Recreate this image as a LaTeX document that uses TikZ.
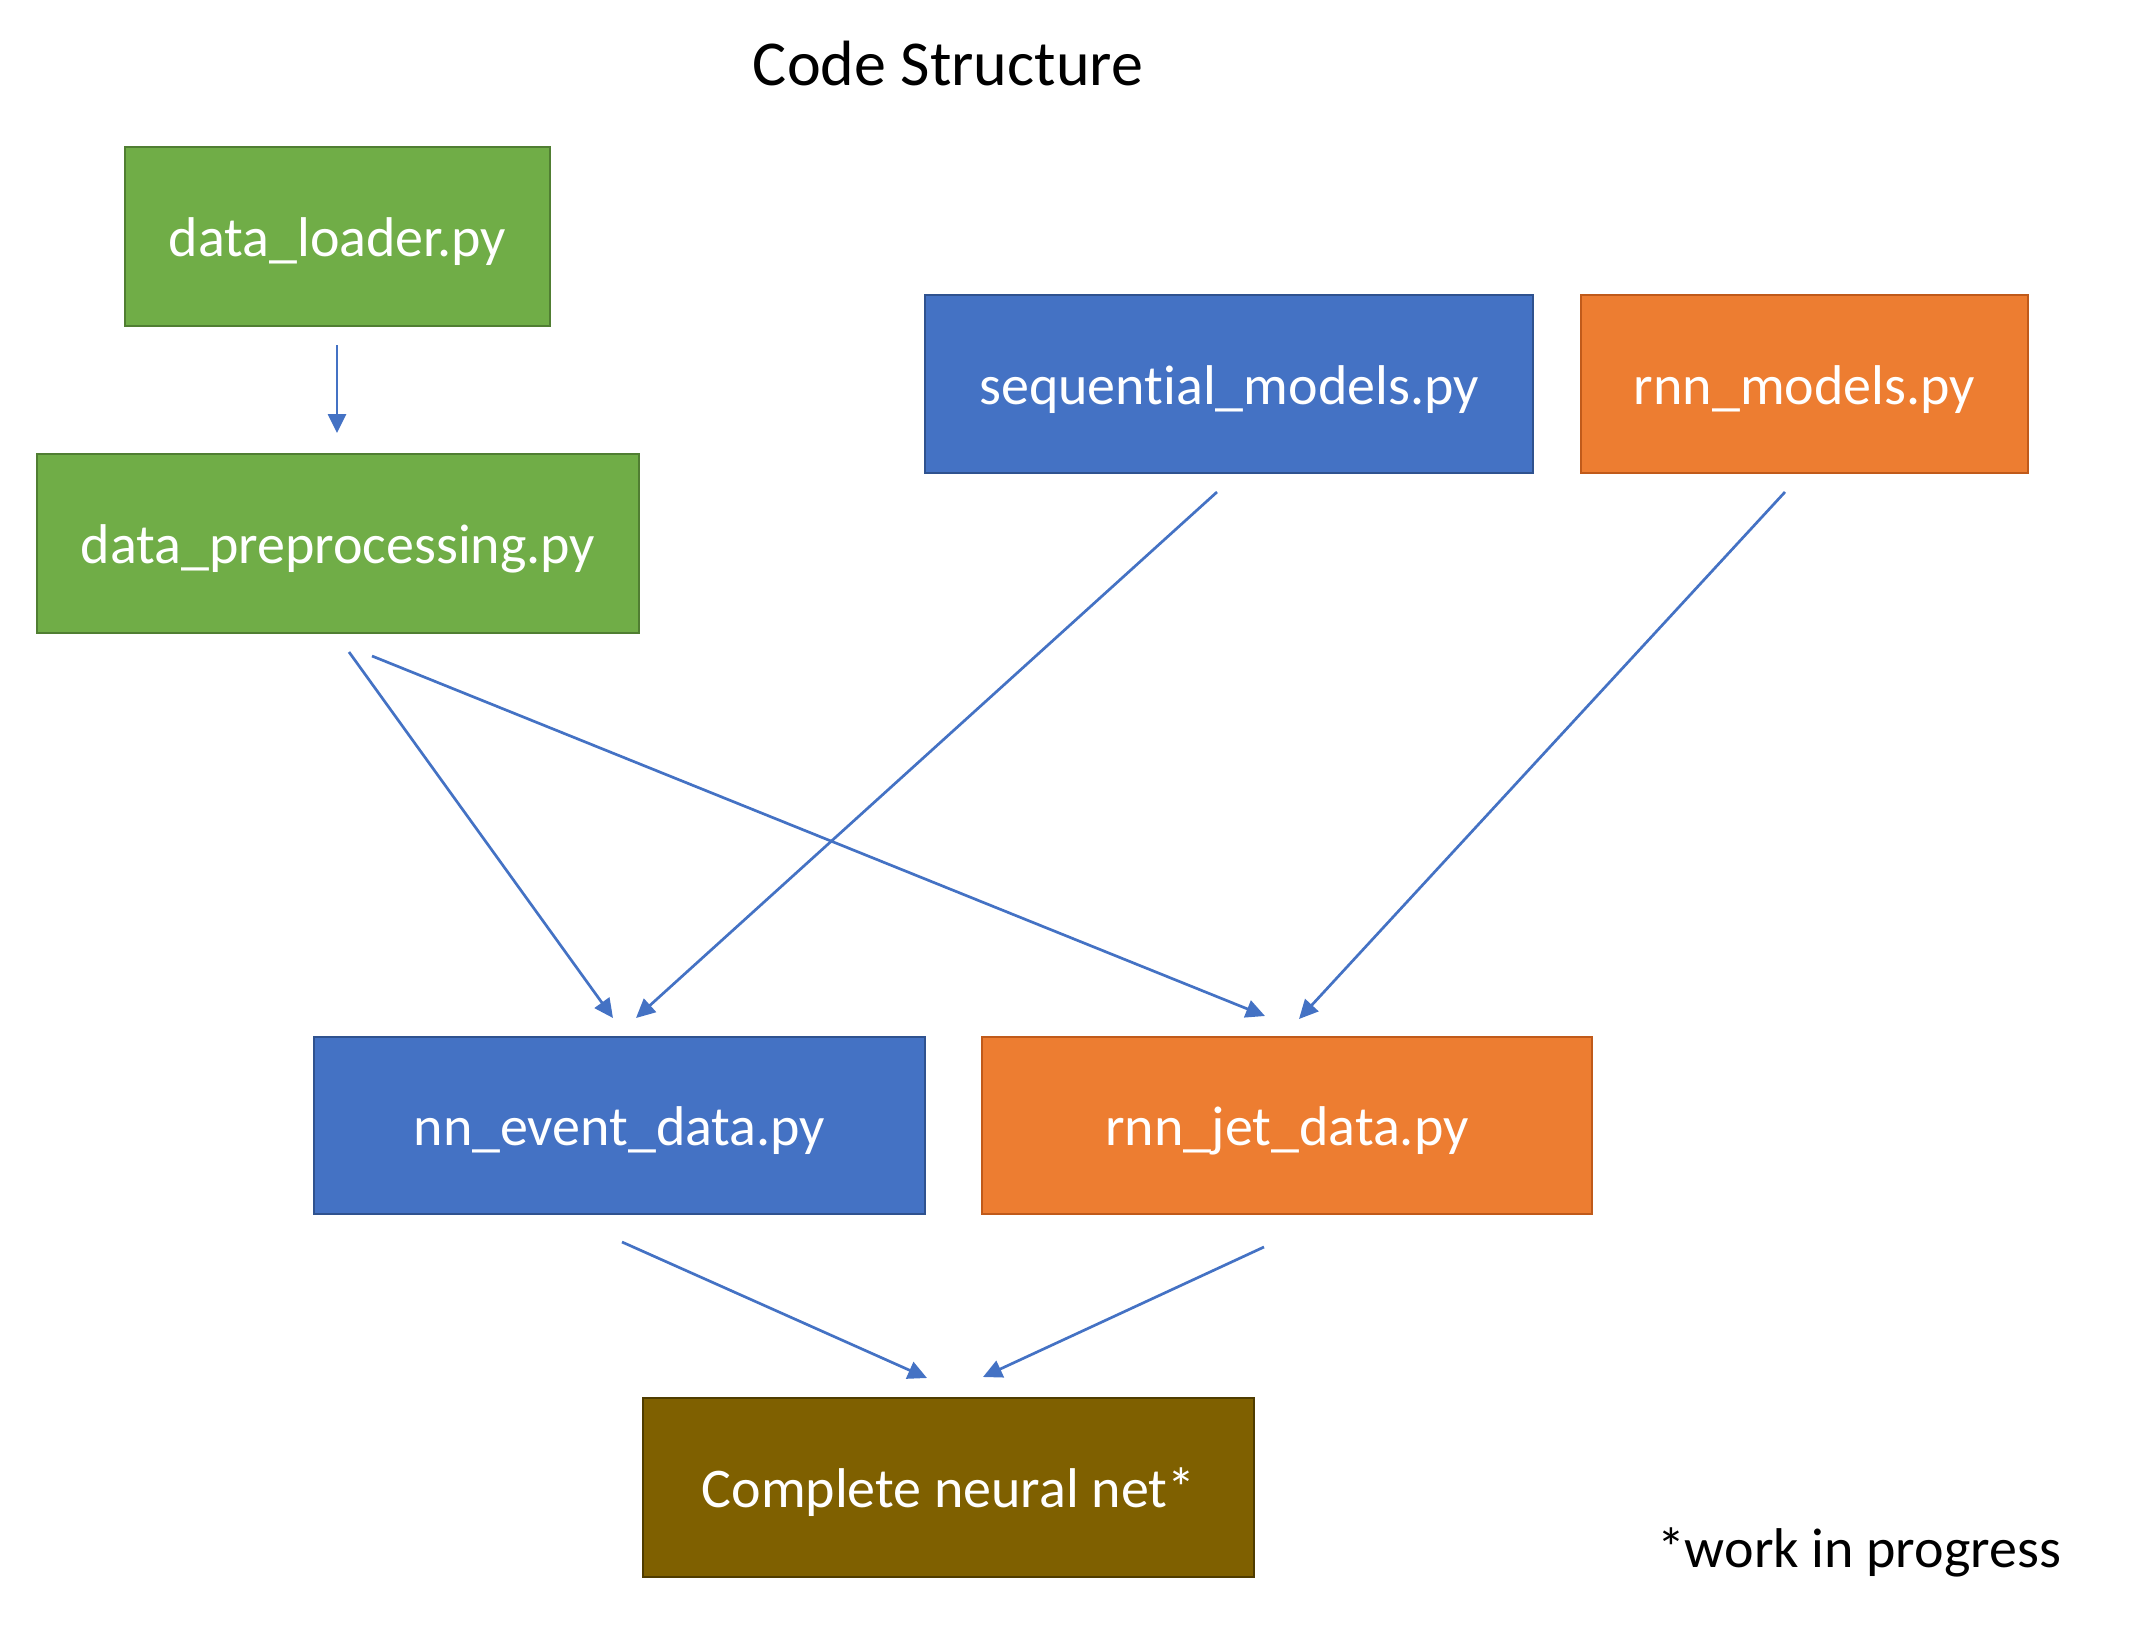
\documentclass[tikz,border=0pt]{standalone}
\usepackage{fontspec}
\setmainfont{Carlito}[Ligatures=NoCommon]
\usetikzlibrary{arrows.meta}
\definecolor{gfill}{HTML}{70AD47}
\definecolor{gline}{HTML}{507E32}
\definecolor{bfill}{HTML}{4472C4}
\definecolor{bline}{HTML}{2F528F}
\definecolor{ofill}{HTML}{ED7D31}
\definecolor{oline}{HTML}{C05A1A}
\definecolor{nfill}{HTML}{7F6000}
\definecolor{nline}{HTML}{4F3C00}
\definecolor{arrowc}{HTML}{4472C4}
\tikzset{
  pybox/.style={rectangle, line width=1.35pt, text=white, inner sep=0pt,
    font=\fontsize{28}{34}\selectfont, text height=20.4pt, text depth=0pt},
  greenbox/.style={pybox, fill=gfill, draw=gline},
  bluebox/.style={pybox, fill=bfill, draw=bline},
  orangebox/.style={pybox, fill=ofill, draw=oline},
  brownbox/.style={pybox, fill=nfill, draw=nline},
  conn/.style={draw=arrowc, line width=1.35pt, -{Triangle[width=9pt,length=9.5pt]}}
}
\begin{document}
\begin{tikzpicture}[x=0.5pt,y=-0.5pt]
\useasboundingbox (0,0) rectangle (2133,1638);
\node[anchor=base, font=\fontsize{32}{38}\selectfont] (title) at (948,85) {Code Structure};
\node[greenbox, minimum width=212.5pt, minimum height=89.5pt] (loader) at (337.5,236.5) {data\_loader.py};
\node[greenbox, minimum width=301pt, minimum height=89.5pt] (pre) at (338,543.5) {data\_preprocessing.py};
\node[bluebox, minimum width=304pt, minimum height=89pt] (seq) at (1229,384) {sequential\_models.py};
\node[orangebox, minimum width=223.5pt, minimum height=89pt] (rnnm) at (1804.5,384) {rnn\_models.py};
\node[bluebox, minimum width=305.5pt, minimum height=88.5pt] (nnev) at (619.5,1125.5) {nn\_event\_data.py};
\node[orangebox, minimum width=305pt, minimum height=88.5pt] (rnnjet) at (1287,1125.5) {rnn\_jet\_data.py};
\node[brownbox, minimum width=305.5pt, minimum height=89.5pt] (net) at (948.5,1487.5) {Complete neural net*};
\node[anchor=base west, font=\fontsize{28}{34}\selectfont] (wip) at (1650,1567) {*work in progress};
% connector end points
\coordinate (a1s) at (337,345);  \coordinate (a1e) at (337,433);
\coordinate (a2s) at (349,652);  \coordinate (a2e) at (613,1018);
\coordinate (a3s) at (372,656);  \coordinate (a3e) at (1265,1016);
\coordinate (a4s) at (1217,492); \coordinate (a4e) at (636,1018);
\coordinate (a5s) at (1785,492); \coordinate (a5e) at (1299,1019);
\coordinate (a6s) at (622,1242); \coordinate (a6e) at (927,1378);
\coordinate (a7s) at (1264,1247);\coordinate (a7e) at (983,1377);
\draw[conn] (a1s) -- (a1e);
\draw[conn] (a2s) -- (a2e);
\draw[conn] (a3s) -- (a3e);
\draw[conn] (a4s) -- (a4e);
\draw[conn] (a5s) -- (a5e);
\draw[conn] (a6s) -- (a6e);
\draw[conn] (a7s) -- (a7e);
\end{tikzpicture}
\end{document}
